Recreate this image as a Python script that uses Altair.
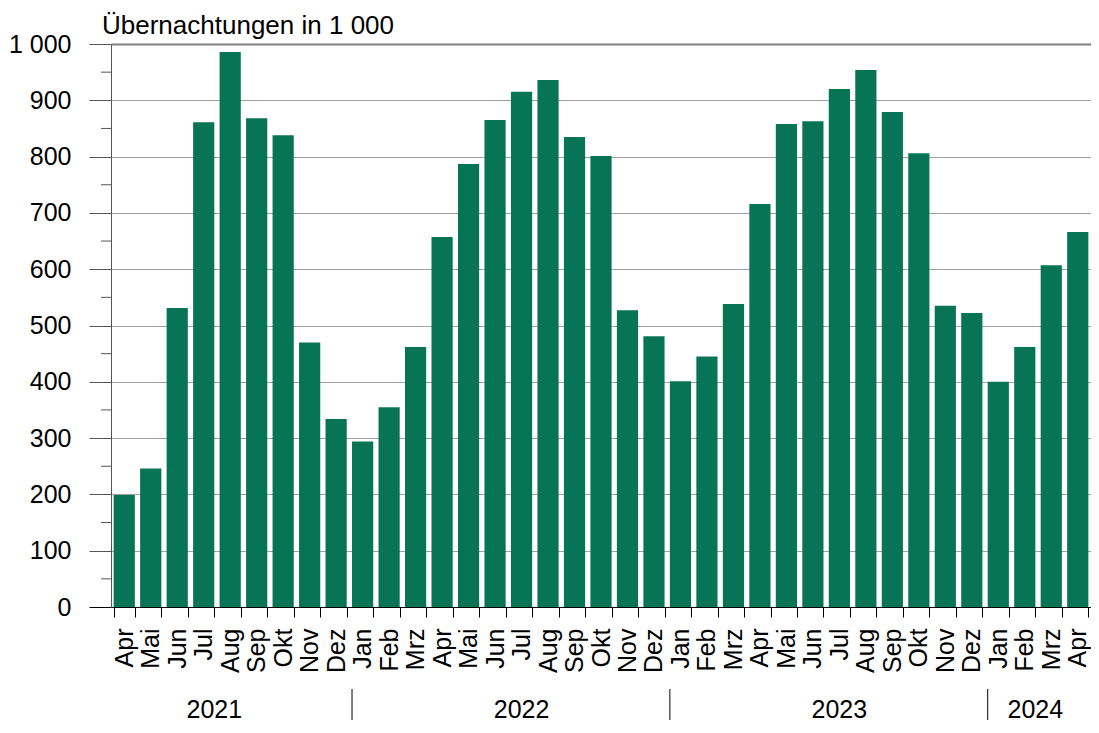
import altair as alt
import pandas as pd

months = ["Apr", "Mai", "Jun", "Jul", "Aug", "Sep", "Okt", "Nov", "Dez",
          "Jan", "Feb", "Mrz", "Apr", "Mai", "Jun", "Jul", "Aug", "Sep", "Okt", "Nov", "Dez",
          "Jan", "Feb", "Mrz", "Apr", "Mai", "Jun", "Jul", "Aug", "Sep", "Okt", "Nov", "Dez",
          "Jan", "Feb", "Mrz", "Apr"]
years = [2021] * 9 + [2022] * 12 + [2023] * 12 + [2024] * 4
values = [199, 246, 531, 861, 986, 868, 838, 470, 334,
          294, 355, 462, 657, 787, 865, 915, 936, 835, 801, 527, 481,
          401, 445, 538, 716, 858, 863, 920, 954, 879, 806, 535, 522,
          400, 462, 607, 666]

y_ticks = [0, 100, 200, 300, 400, 500, 600, 700, 800, 900, 1000]
y_minor = [50, 150, 250, 350, 450, 550, 650, 750, 850, 950]

# year separators sit at the first month of each following year
sep_keys = ["Jan 2022", "Jan 2023", "Jan 2024"]
# year label anchors
year_labels_mid = pd.DataFrame({"key": ["Jul 2022", "Jul 2023"], "year": ["2022", "2023"]})
year_labels_end = pd.DataFrame({"key": ["Jul 2021", "Feb 2024"], "year": ["2021", "2024"]})

keys = [f"{m} {y}" for m, y in zip(months, years)]
df = pd.DataFrame({"key": keys, "value": values})

W, H = 980, 563
FONT = "Liberation Sans"
GREEN = "#077456"

xscale = alt.Scale(domain=keys, paddingInner=0.2, paddingOuter=0.1)
yscale = alt.Scale(domain=[0, 1000], nice=False)

bars = alt.Chart(df).mark_bar(color=GREEN).encode(
    x=alt.X("key:N", scale=xscale, sort=keys, title=None,
            axis=alt.Axis(labelExpr="isValid(datum.value) ? split(datum.value, ' ')[0] : ''",
                          labelAngle=270,
                          labelAlign="right", labelBaseline="middle",
                          labelFontSize=25, labelFont=FONT, labelColor="#000000",
                          labelPadding=11, tickSize=10, tickBand="extent",
                          tickColor="#000000", domainColor="#000000",
                          labelOverlap=False, grid=False)),
    y=alt.Y("value:Q", scale=yscale, title=None,
            axis=alt.Axis(values=y_ticks, tickSize=22, labelPadding=18,
                          labelFontSize=25, labelFont=FONT, labelColor="#000000",
                          labelExpr="replace(format(datum.value, ','), ',', ' ')",
                          domainColor="#555555",
                          tickColor={"condition": {"test": "datum.value == 0", "value": "#000000"},
                                     "value": "#555555"},
                          gridColor={"condition": {"test": "datum.value == 1000", "value": "#808080"},
                                     "value": "#a0a0a0"},
                          gridWidth={"condition": {"test": "datum.value == 1000", "value": 2},
                                     "value": 1},
                          grid=True)),
)

minor = alt.Chart(pd.DataFrame({"v": y_minor})).mark_rule(color="#555555", strokeWidth=1).encode(
    y=alt.Y("v:Q", scale=yscale),
    x=alt.value(-10),
    x2=alt.value(0),
)

seps = alt.Chart(pd.DataFrame({"key": sep_keys})).mark_rule(color="#000000", strokeWidth=1).encode(
    x=alt.X("key:N", scale=xscale, sort=keys, bandPosition=0),
    y=alt.value(H + 82),
    y2=alt.value(H + 113),
)

ylab_mid = alt.Chart(year_labels_mid).mark_text(font=FONT, fontSize=25, color="#000000",
                                                 align="center", baseline="alphabetic").encode(
    x=alt.X("key:N", scale=xscale, sort=keys, bandPosition=0.5),
    y=alt.value(H + 111),
    text="year:N",
)
ylab_end = alt.Chart(year_labels_end).mark_text(font=FONT, fontSize=25, color="#000000",
                                                 align="center", baseline="alphabetic").encode(
    x=alt.X("key:N", scale=xscale, sort=keys, bandPosition=1),
    y=alt.value(H + 111),
    text="year:N",
)

chart = alt.layer(bars, minor, seps, ylab_mid, ylab_end).properties(
    width=W, height=H,
    padding={"left": 0, "top": 5, "right": 0, "bottom": 0},
    title=alt.TitleParams("Übernachtungen in 1 000", anchor="start", frame="group",
                          fontSize=26, font=FONT,
                          fontWeight="normal", color="#000000", offset=-7, dx=-9),
).configure_view(stroke=None)

chart.save("out.html", embed_options={"renderer": "svg", "actions": False})
